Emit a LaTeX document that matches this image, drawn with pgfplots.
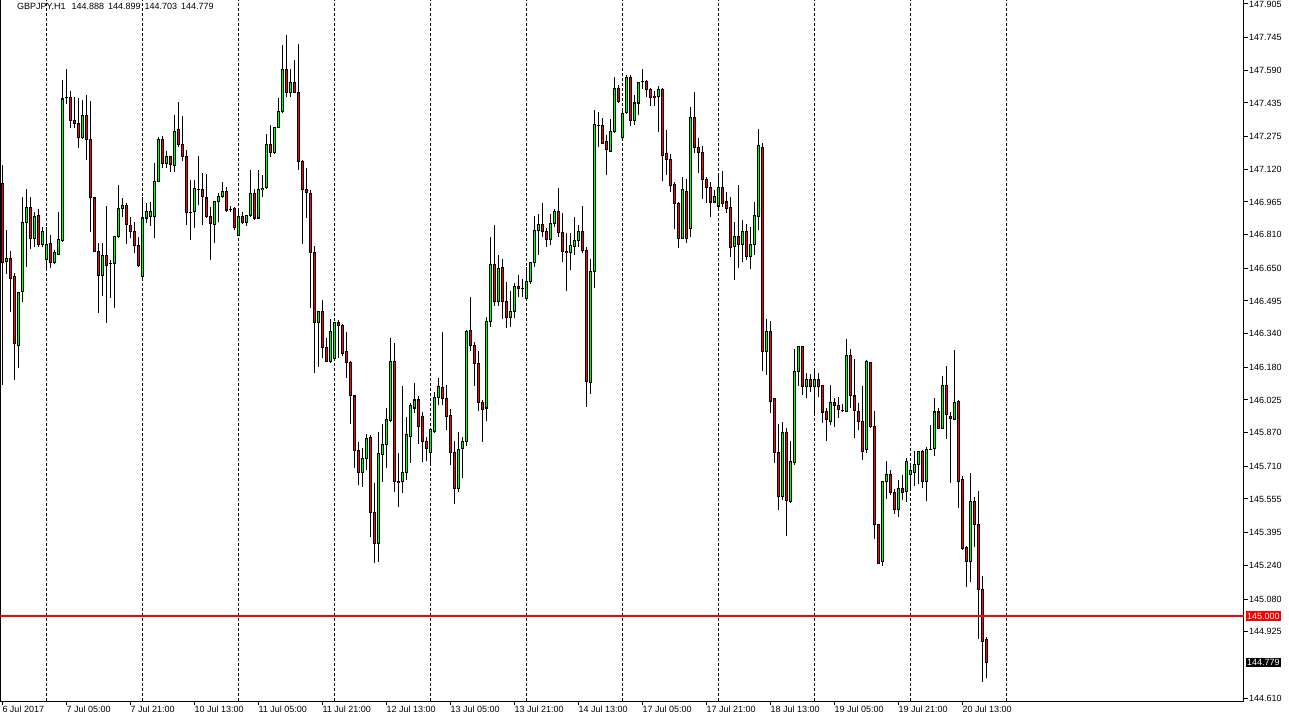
\documentclass[border=0pt]{standalone}
\usepackage{pgfplots}
\pgfplotsset{compat=1.18}
\usepackage{pgfplotstable}
\usepackage{fontspec}
\setmainfont{Liberation Sans}

\definecolor{bullc}{RGB}{0,255,0}
\definecolor{bearc}{RGB}{255,0,0}

% GBPJPY H1 candles, index = hour bar from 6 Jul 13:00
\pgfplotstableread{
i o h l c
1 146.681 146.832 146.623 146.699
4 146.286 146.533 146.177 146.533
5 146.538 146.989 146.491 146.870
6 146.870 147.026 146.657 146.941
8 146.794 146.918 146.751 146.894
10 146.765 146.846 146.751 146.823
11 146.694 146.846 146.652 146.765
13 146.676 146.737 146.671 146.723
14 146.718 146.918 146.713 146.789
15 146.784 147.544 146.775 147.454
16 147.459 147.596 147.430 147.459
20 147.269 147.449 147.264 147.374
25 146.614 146.770 146.519 146.713
27 146.671 146.690 146.509 146.671
28 146.671 146.804 146.462 146.799
29 146.799 147.045 146.794 146.936
30 146.936 146.984 146.894 146.950
35 146.609 146.989 146.604 146.889
36 146.889 146.960 146.865 146.918
37 146.894 146.965 146.851 146.918
38 146.894 147.150 146.794 147.064
39 147.064 147.274 147.060 147.264
41 147.150 147.207 147.126 147.179
43 147.136 147.378 147.108 147.302
47 146.913 147.069 146.784 146.913
48 146.918 147.069 146.841 147.031
49 147.026 147.184 146.950 147.026
53 146.860 146.969 146.770 146.969
54 146.969 147.008 146.870 146.993
55 146.989 147.060 146.984 147.013
57 146.931 146.946 146.918 146.931
59 146.808 146.927 146.804 146.898
61 146.870 146.903 146.851 146.903
62 146.903 147.117 146.894 147.003
64 146.889 147.117 146.884 147.026
65 147.022 147.093 146.989 147.031
66 147.036 147.288 147.026 147.240
68 147.198 147.321 147.193 147.321
69 147.321 147.459 147.316 147.393
70 147.393 147.710 147.388 147.596
72 147.487 147.596 147.464 147.534
79 146.391 146.443 146.182 146.443
82 146.210 146.409 146.201 146.348
83 146.224 146.391 146.220 146.391
90 145.683 145.797 145.612 145.749
91 145.745 145.863 145.692 145.840
94 145.346 145.873 145.256 145.773
95 145.768 145.911 145.636 145.816
96 145.816 145.987 145.702 145.934
97 145.930 146.319 145.921 146.206
100 145.636 146.092 145.584 145.683
101 145.683 145.944 145.645 145.863
102 145.854 146.011 145.726 145.997
103 145.987 146.106 145.963 146.025
107 145.778 145.887 145.726 145.887
108 145.877 146.063 145.868 146.039
109 146.039 146.129 146.001 146.087
114 145.607 145.873 145.589 145.792
115 145.797 145.849 145.654 145.830
116 145.830 146.357 145.806 146.352
121 145.987 146.419 145.925 146.396
122 146.396 146.799 146.372 146.666
124 146.491 146.713 146.472 146.647
127 146.419 146.542 146.372 146.443
128 146.443 146.581 146.414 146.562
130 146.552 146.599 146.514 146.552
131 146.509 146.657 146.505 146.586
132 146.586 146.681 146.576 146.676
133 146.676 146.898 146.657 146.832
134 146.832 146.908 146.713 146.860
137 146.789 146.908 146.760 146.865
138 146.865 146.931 146.846 146.922
142 146.723 146.818 146.642 146.760
143 146.756 146.894 146.713 146.784
144 146.784 146.855 146.751 146.827
147 146.110 146.694 146.053 146.637
148 146.633 147.402 146.557 147.335
152 147.207 147.359 147.202 147.298
153 147.298 147.559 147.293 147.506
155 147.269 147.411 147.264 147.383
156 147.388 147.568 147.383 147.554
158 147.354 147.473 147.330 147.435
159 147.435 147.530 147.378 147.530
160 147.539 147.596 147.501 147.539
164 147.464 147.516 147.298 147.501
170 146.794 147.084 146.789 147.022
172 146.841 147.416 146.799 147.364
178 146.965 147.022 146.960 146.993
179 146.946 147.103 146.927 147.036
183 146.756 146.870 146.595 146.799
185 146.765 146.879 146.681 146.823
187 146.704 146.846 146.647 146.765
188 146.765 146.965 146.713 146.903
189 146.898 147.311 146.832 147.231
191 146.257 146.409 146.143 146.348
195 145.565 145.921 145.550 145.873
197 145.545 145.830 145.536 145.731
198 145.726 146.267 145.716 146.158
199 146.158 146.277 146.092 146.277
201 146.087 146.153 146.034 146.124
203 146.087 146.172 145.949 146.120
207 145.925 146.096 145.906 146.011
210 145.977 146.006 145.968 145.977
211 145.972 146.314 145.968 146.234
216 145.792 146.215 145.773 146.206
220 145.256 145.640 145.237 145.640
221 145.636 145.735 145.555 145.673
224 145.507 145.645 145.470 145.607
226 145.589 145.749 145.541 145.735
227 145.673 145.716 145.598 145.688
228 145.683 145.782 145.617 145.721
229 145.721 145.782 145.626 145.782
231 145.636 145.802 145.545 145.792
232 145.792 145.906 145.787 145.792
233 145.797 146.034 145.759 145.968
235 145.892 146.139 145.887 146.096
238 145.934 146.262 145.930 146.011
242 145.260 145.678 145.161 145.545
}\bulltab

\pgfplotstableread{
i o h l c
0 147.055 147.140 146.096 146.676
2 146.699 146.732 146.443 146.604
3 146.609 146.628 146.120 146.291
7 146.941 146.989 146.741 146.794
9 146.903 146.931 146.751 146.765
12 146.770 146.808 146.652 146.676
17 147.459 147.492 147.316 147.354
18 147.354 147.464 147.316 147.340
19 147.340 147.459 147.221 147.269
21 147.374 147.473 147.164 147.264
22 147.264 147.444 146.823 146.984
23 146.984 146.989 146.728 146.732
24 146.728 146.770 146.438 146.614
26 146.713 146.946 146.391 146.662
31 146.950 146.960 146.765 146.860
32 146.855 146.894 146.794 146.827
33 146.827 146.870 146.723 146.760
34 146.760 146.799 146.657 146.662
40 147.264 147.279 147.126 147.150
42 147.179 147.184 147.108 147.145
44 147.307 147.440 147.226 147.240
45 147.240 147.374 147.159 147.179
46 147.179 147.212 146.855 146.913
50 147.022 147.103 146.855 146.989
51 146.984 147.098 146.889 146.898
52 146.898 146.941 146.690 146.865
56 147.013 147.036 146.918 146.927
58 146.936 146.941 146.832 146.846
60 146.898 146.918 146.860 146.870
63 147.003 147.026 146.879 146.889
67 147.240 147.330 147.179 147.198
71 147.596 147.758 147.464 147.487
73 147.534 147.639 147.483 147.487
74 147.487 147.715 147.117 147.155
75 147.155 147.164 146.765 147.022
76 147.022 147.126 146.889 147.008
77 147.003 147.022 146.462 146.723
78 146.723 146.756 146.153 146.391
80 146.443 146.500 146.224 146.272
81 146.272 146.319 146.206 146.210
84 146.391 146.405 146.224 146.377
85 146.381 146.386 146.234 146.248
86 146.253 146.348 146.129 146.201
87 146.201 146.210 145.911 146.044
88 146.044 146.049 145.702 145.787
89 145.787 145.826 145.621 145.683
92 145.849 145.858 145.375 145.489
93 145.489 145.631 145.251 145.346
98 146.206 146.296 145.589 145.640
99 145.640 145.773 145.517 145.631
104 146.025 146.044 145.816 145.897
105 145.949 145.968 145.731 145.826
106 145.826 145.849 145.735 145.797
110 146.082 146.348 146.001 146.034
111 146.034 146.096 145.882 145.949
112 145.953 145.982 145.716 145.778
113 145.778 145.830 145.531 145.607
117 146.357 146.514 146.257 146.282
118 146.286 146.300 146.092 146.196
119 146.196 146.257 145.972 146.011
120 146.011 146.025 145.826 145.982
123 146.666 146.855 146.472 146.491
125 146.652 146.694 146.409 146.491
126 146.491 146.586 146.367 146.419
129 146.562 146.618 146.514 146.552
135 146.860 146.960 146.799 146.823
136 146.823 146.841 146.751 146.789
139 146.922 147.031 146.799 146.818
140 146.818 146.913 146.681 146.728
141 146.732 146.818 146.542 146.723
145 146.827 146.946 146.723 146.737
146 146.737 146.751 145.992 146.115
149 147.330 147.393 147.226 147.326
150 147.330 147.364 147.240 147.245
151 147.250 147.283 147.093 147.212
154 147.506 147.520 147.435 147.440
157 147.554 147.568 147.326 147.354
161 147.539 147.544 147.464 147.497
162 147.497 147.506 147.421 147.459
163 147.464 147.492 147.421 147.459
165 147.501 147.506 147.064 147.184
166 147.193 147.307 147.093 147.169
167 147.169 147.193 147.013 147.041
168 147.050 147.060 146.836 146.960
169 146.960 146.965 146.746 146.794
171 147.017 147.074 146.770 146.794
173 147.364 147.487 147.198 147.226
174 147.226 147.269 147.103 147.198
175 147.198 147.231 146.979 147.074
176 147.074 147.084 146.960 147.036
177 147.036 147.060 146.894 146.965
180 147.036 147.112 146.941 146.960
181 146.965 147.013 146.913 146.936
182 146.941 146.989 146.704 146.751
184 146.799 147.045 146.652 146.765
186 146.823 146.860 146.690 146.704
190 147.226 147.245 146.162 146.257
192 146.348 146.400 145.963 146.020
193 146.030 146.034 145.726 145.778
194 145.778 145.911 145.503 145.565
196 145.873 145.892 145.380 145.550
200 146.277 146.281 146.049 146.087
202 146.124 146.148 146.063 146.087
204 146.120 146.153 146.039 146.087
205 146.092 146.096 145.916 145.968
206 145.972 145.987 145.830 145.934
208 146.011 146.034 145.897 145.997
209 145.997 146.039 145.939 145.982
212 146.234 146.267 145.987 146.044
213 146.044 146.219 145.844 145.977
214 145.972 146.011 145.882 145.925
215 145.921 146.092 145.740 145.782
217 146.201 146.206 145.892 145.897
218 145.897 145.972 145.365 145.436
219 145.432 145.436 145.246 145.251
222 145.673 145.692 145.574 145.584
223 145.584 145.602 145.484 145.507
225 145.607 145.668 145.550 145.584
230 145.782 145.787 145.607 145.636
234 145.968 145.987 145.887 145.892
236 146.096 146.187 145.840 145.958
237 145.949 145.968 145.631 145.939
239 146.016 146.025 145.512 145.636
240 145.649 145.664 145.313 145.322
241 145.327 145.332 145.137 145.260
243 145.545 145.565 145.327 145.432
244 145.436 145.593 144.890 145.127
245 145.127 145.190 144.686 144.880
246 144.888 144.899 144.703 144.779
}\beartab

\pgfplotsset{
  candle/.style={draw=none, mark=none, forget plot,
    error bars/.cd, y dir=plus, y explicit, error mark=none,
    error bar style={#1}},
}

\begin{document}
\begin{tikzpicture}
\useasboundingbox (0pt,-22pt) rectangle (1289pt,701pt);
\begin{axis}[
  at={(0pt,0pt)}, anchor=south west,
  scale only axis, width=1244pt, height=701pt,
  xmin=-0.575, xmax=310.4, ymin=144.596, ymax=147.924,
  clip=false,
  axis line style={black, line width=1pt},
  tick style={black, line width=1pt},
  tick align=outside, major tick length=4pt,
  ticklabel style={font=\fontsize{9}{10}\selectfont},
  xtick pos=bottom, ytick pos=right, yticklabel pos=right,
  xtick={0,16,...,240},
  xticklabels={6 Jul 2017,7 Jul 05:00,7 Jul 21:00,10 Jul 13:00,11 Jul 05:00,11 Jul 21:00,12 Jul 13:00,13 Jul 05:00,13 Jul 21:00,14 Jul 13:00,17 Jul 05:00,17 Jul 21:00,18 Jul 13:00,19 Jul 05:00,19 Jul 21:00,20 Jul 13:00},
  xticklabel style={anchor=north west, inner sep=1pt, xshift=-1pt},
  extra x ticks={11,35,59,83,107,131,155,179,203,227,251},
  extra x tick labels={},
  extra x tick style={grid=major, major tick length=0pt,
    major grid style={black, line width=1pt, dash pattern=on 3pt off 2pt}},
  ytick={144.610,144.925,145.080,145.240,145.395,145.555,145.710,145.870,146.025,146.180,146.340,146.495,146.650,146.810,146.965,147.120,147.275,147.435,147.590,147.745,147.905},
  yticklabel style={anchor=west, inner sep=1pt,
    /pgf/number format/.cd, fixed, fixed zerofill, precision=3, assume math mode=true},
  scaled y ticks=false,
]
% wicks
\addplot[candle={draw=black, line width=1pt}] table[x=i, y=l, y error expr=\thisrow{h}-\thisrow{l}] {\bulltab};
\addplot[candle={draw=black, line width=1pt}] table[x=i, y=l, y error expr=\thisrow{h}-\thisrow{l}] {\beartab};
% body outlines
\addplot[candle={draw=black, line width=3.4pt}] table[x=i, y expr={min(\thisrow{o},\thisrow{c})-0.0024}, y error expr={abs(\thisrow{c}-\thisrow{o})+0.0048}] {\bulltab};
\addplot[candle={draw=black, line width=3.4pt}] table[x=i, y expr={min(\thisrow{o},\thisrow{c})-0.0024}, y error expr={abs(\thisrow{c}-\thisrow{o})+0.0048}] {\beartab};
% body fills
\addplot[candle={draw=bullc, line width=1.5pt}] table[x=i, y expr={min(\thisrow{o},\thisrow{c})+0.0024}, y error expr={max(abs(\thisrow{c}-\thisrow{o})-0.0048,0)}] {\bulltab};
\addplot[candle={draw=bearc, line width=1.5pt}] table[x=i, y expr={min(\thisrow{o},\thisrow{c})+0.0024}, y error expr={max(abs(\thisrow{c}-\thisrow{o})-0.0048,0)}] {\beartab};
% 145.000 level
\addplot[draw=bearc, line width=1.2pt, mark=none] coordinates {(-0.575,145.000) (310.4,145.000)};
\node[fill=bearc, text=white, anchor=west, inner xsep=1.5pt, inner ysep=1.5pt,
  font=\fontsize{9}{10}\selectfont] at (axis cs:310.4,145.000) [xshift=1.5pt] {145.000};
\node[fill=black, text=white, anchor=west, inner xsep=1.5pt, inner ysep=1.5pt,
  font=\fontsize{9}{10}\selectfont] at (axis cs:310.4,144.779) [xshift=1.5pt] {144.779};
\node[anchor=north west, inner sep=0pt, font=\fontsize{9}{10}\selectfont]
  at (rel axis cs:0,1) [xshift=17pt, yshift=-3pt]
  {GBPJPY,H1\hspace{6pt}144.888\hspace{4pt}144.899\hspace{4pt}144.703\hspace{4pt}144.779};
\end{axis}
\end{tikzpicture}
\end{document}
